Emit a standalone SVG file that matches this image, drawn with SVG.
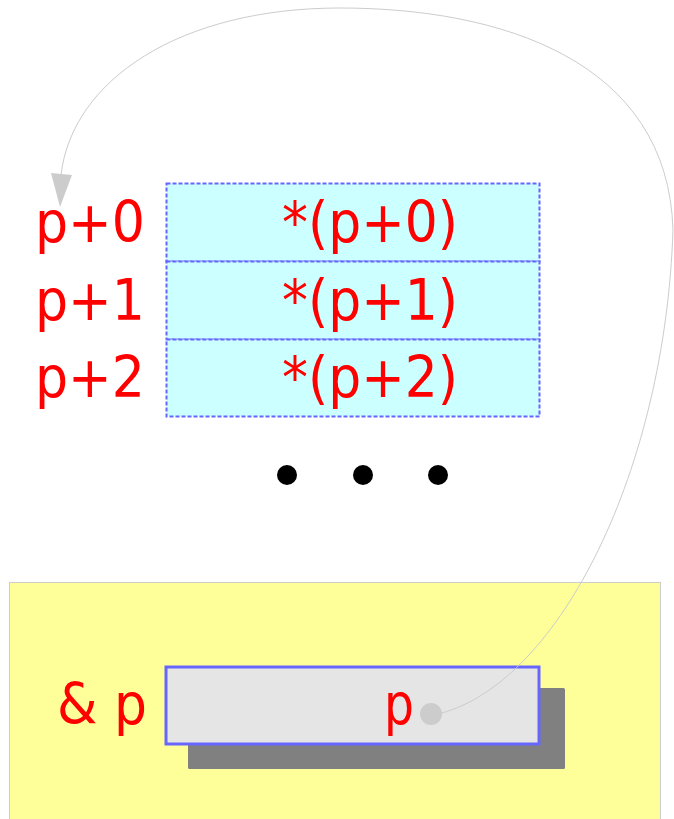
<svg xmlns="http://www.w3.org/2000/svg" width="674" height="819" viewBox="0 0 674 819">
<style>
.t{font-family:"DejaVu Sans","Liberation Sans",sans-serif;font-size:57px;fill:#ff0000}
.cell{fill:#ccffff;stroke:#6666ff;stroke-width:2;stroke-dasharray:4,2}
.edge{fill:none;stroke:#cccccc;stroke-width:1}
</style>
<rect width="674" height="819" fill="#ffffff"/>
<g id="cluster">
<rect x="9.5" y="582.5" width="651" height="240" fill="#ffff99" stroke="#cccccc" stroke-width="1"/>
</g>
<g id="array">
<rect class="cell" x="166.5" y="183.5" width="373" height="78"/>
<rect class="cell" x="166.5" y="261.5" width="373" height="78"/>
<rect class="cell" x="166.5" y="339.5" width="373" height="77"/>
<text class="t" x="370" y="242" text-anchor="middle" textLength="176" lengthAdjust="spacingAndGlyphs">*(p+0)</text>
<text class="t" x="370" y="320" text-anchor="middle" textLength="176" lengthAdjust="spacingAndGlyphs">*(p+1)</text>
<text class="t" x="370" y="397" text-anchor="middle" textLength="176" lengthAdjust="spacingAndGlyphs">*(p+2)</text>
</g>
<g id="labels">
<text class="t" x="35" y="242" textLength="110" lengthAdjust="spacingAndGlyphs">p+0</text>
<text class="t" x="35" y="320" textLength="110" lengthAdjust="spacingAndGlyphs">p+1</text>
<text class="t" x="35" y="397" textLength="110" lengthAdjust="spacingAndGlyphs">p+2</text>
</g>
<g id="dots" fill="#000000">
<circle cx="287" cy="475" r="10"/>
<circle cx="363" cy="475" r="10"/>
<circle cx="438" cy="475" r="10"/>
</g>
<g id="pnode">
<rect x="188" y="688" width="377" height="81" rx="1.5" fill="#808080"/>
<rect x="166" y="667" width="373" height="77" fill="#e5e5e5" stroke="#6666ff" stroke-width="3"/>
<text class="t" x="384" y="724" textLength="30" lengthAdjust="spacingAndGlyphs">p</text>
<ellipse cx="431" cy="714" rx="11" ry="11" fill="#cccccc"/>
</g>
<g id="pname">
<text class="t" x="57" y="724" textLength="90" lengthAdjust="spacingAndGlyphs">&amp; p</text>
</g>
<g id="connectors">
<path class="edge" d="M442,713 C560,680 665,470 673,230 C668,60 500,8 340,8 C180,8 72,80 61,175"/>
<polygon points="51,173 72,175 60,207" fill="#cccccc"/>
</g>
</svg>
